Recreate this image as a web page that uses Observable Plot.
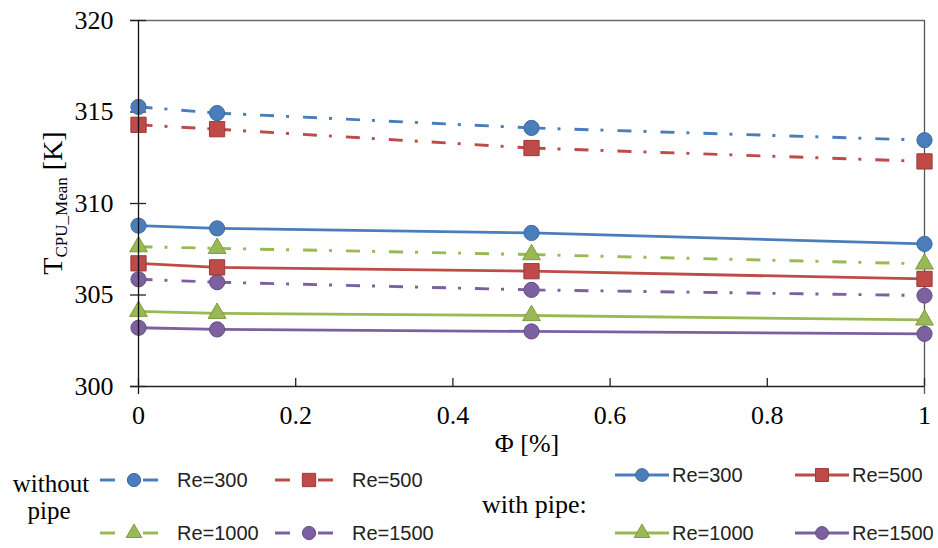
<!DOCTYPE html>
<html><head><meta charset="utf-8">
<script src="https://cdn.jsdelivr.net/npm/d3@7"></script>
<script src="https://cdn.jsdelivr.net/npm/@observablehq/plot@0.6"></script>
<style>body{margin:0;background:#fff}#chart svg{display:block}</style>
</head><body><div id="chart"></div>
<script>
// ---- data ----
const phi = [0, 0.1, 0.5, 1];
const reNames = ["Re=300", "Re=500", "Re=1000", "Re=1500"];
const seriesColors = ["#4A7EBB", "#BE4B48", "#98B954", "#7D60A0"];
const markerStrokes = ["#3C6AA2", "#9C3A37", "#7E9C42", "#634C85"];
const seriesSymbols = ["circle", "square", "triangle", "circle"];
const withoutPipe300 = [315.28, 314.94, 314.13, 313.46];
const withoutPipe500 = [314.30, 314.06, 313.03, 312.30];
const withoutPipe1000 = [307.64, 307.55, 307.21, 306.70];
const withoutPipe1500 = [305.86, 305.70, 305.28, 304.97];
const withPipe300 = [308.79, 308.64, 308.39, 307.79];
const withPipe500 = [306.73, 306.51, 306.30, 305.88];
const withPipe1000 = [304.11, 304.00, 303.88, 303.64];
const withPipe1500 = [303.21, 303.12, 303.01, 302.88];
const yTicks = [300, 305, 310, 315, 320];
const xTicks = [0, 0.2, 0.4, 0.6, 0.8, 1];

const withoutSeries = [withoutPipe300, withoutPipe500, withoutPipe1000, withoutPipe1500];
const withSeries = [withPipe300, withPipe500, withPipe1000, withPipe1500];

function toRows(list, group) {
  const rows = [];
  list.forEach((vals, s) => vals.forEach((v, i) => rows.push({
    phi: phi[i], T: v, re: reNames[s], group, color: seriesColors[s],
    mstroke: markerStrokes[s], sym: seriesSymbols[s]
  })));
  return rows;
}
const withoutRows = toRows(withoutSeries, "without");
const withRows = toRows(withSeries, "with");
const allRows = withoutRows.concat(withRows);
const segs = [];
withoutSeries.forEach((vals, s) => {
  for (let i = 0; i < vals.length - 1; i++)
    segs.push({x1: phi[i], y1: vals[i], x2: phi[i + 1], y2: vals[i + 1], color: seriesColors[s]});
});

const W = 938, H = 460;
const serif = "'Liberation Serif', 'Times New Roman', serif";
const sans = "'Liberation Sans', Arial, sans-serif";

const plot = Plot.plot({
  width: W, height: H,
  marginLeft: 138, marginRight: 14, marginTop: 20, marginBottom: 74,
  style: {fontFamily: serif, fontSize: "26px", color: "#000", background: "#fff"},
  x: {domain: [0, 1]},
  y: {domain: [300, 320]},
  color: {type: "identity"},
  marks: [
    Plot.ruleY([320], {stroke: "#6a6a6a", strokeWidth: 1.3, insetLeft: -8}),
    Plot.ruleX([1], {stroke: "#555", strokeWidth: 1.3, insetBottom: -8}),
    Plot.axisY({ticks: yTicks, tickSize: 16, dx: 8, tickFormat: () => "", stroke: "#222", strokeWidth: 1.3}),
    Plot.axisY({ticks: yTicks, tickSize: 0, tickPadding: 25, fontFamily: serif, fontSize: 26, fontVariant: "normal", fill: "#000"}),
    Plot.axisX({ticks: xTicks, tickSize: 8, dy: -8, tickFormat: () => "", stroke: "#222", strokeWidth: 1.3}),
    Plot.axisX({ticks: xTicks, tickSize: 0, tickPadding: 19, tickFormat: d => String(d), fontFamily: serif, fontSize: 26, fontVariant: "normal", fill: "#000"}),
    Plot.link(segs, {x1: "x1", y1: "y1", x2: "x2", y2: "y2", stroke: "color", strokeWidth: 2.9, strokeDasharray: "14,12,3,14"}),
    Plot.line(withRows, {x: "phi", y: "T", z: "re", stroke: "color", strokeWidth: 2.8}),
    Plot.dot(allRows.filter(d => d.sym === "circle"), {x: "phi", y: "T", symbol: "circle", r: 7.6, fill: "color", stroke: "mstroke", strokeWidth: 1}),
    Plot.dot(allRows.filter(d => d.sym === "square"), {x: "phi", y: "T", symbol: "square", r: 8.6, fill: "color", stroke: "mstroke", strokeWidth: 1}),
    Plot.dot(allRows.filter(d => d.sym === "triangle"), {x: "phi", y: "T", symbol: "triangle", r: 6.6, fill: "color", stroke: "mstroke", strokeWidth: 1}),
    Plot.ruleX([0], {stroke: "#111", strokeWidth: 1.3, insetBottom: -8}),
    Plot.ruleY([300], {stroke: "#222", strokeWidth: 1.3, insetLeft: -8})
  ]
});
document.getElementById("chart").appendChild(plot);

const svg = d3.select(plot);
svg.selectAll("text").style("font-family", serif).style("font-variant", "normal");

// axis titles
const yl = svg.append("text")
  .attr("transform", "translate(62,203) rotate(-90)")
  .attr("text-anchor", "middle")
  .attr("font-family", serif).attr("font-size", 28).attr("fill", "#000");
yl.append("tspan").text("T");
yl.append("tspan").attr("font-size", 17).attr("dy", 5).text("CPU_Mean");
yl.append("tspan").attr("dy", -5).text(" [K]");
svg.append("text").attr("x", 527).attr("y", 452).attr("text-anchor", "middle")
  .attr("font-family", serif).attr("font-size", 26).attr("fill", "#000").text("\u03A6 [%]");

// ---- legend ----
const leg = d3.select("#chart").append("svg").attr("width", W).attr("height", 88)
  .style("display", "block");
leg.append("text").attr("x", 51).attr("y", 32).attr("text-anchor", "middle")
  .attr("font-family", serif).attr("font-size", 25).text("without");
leg.append("text").attr("x", 49).attr("y", 59).attr("text-anchor", "middle")
  .attr("font-family", serif).attr("font-size", 25).text("pipe");
leg.append("text").attr("x", 482).attr("y", 53)
  .attr("font-family", serif).attr("font-size", 26).text("with pipe:");

function symPath(sym, r) {
  const t = sym === "square" ? d3.symbolSquare : sym === "triangle" ? d3.symbolTriangle : d3.symbolCircle;
  return d3.symbol(t, Math.PI * r * r)();
}
const withoutPos = [[100, 20], [275, 20], [100, 73], [275, 73]];
withoutPos.forEach(([x0, y], s) => {
  const g = leg.append("g");
  g.append("line").attr("x1", x0).attr("x2", x0 + 15).attr("y1", y).attr("y2", y)
    .attr("stroke", seriesColors[s]).attr("stroke-width", 3);
  g.append("line").attr("x1", x0 + 43).attr("x2", x0 + 58).attr("y1", y).attr("y2", y)
    .attr("stroke", seriesColors[s]).attr("stroke-width", 3);
  const r = seriesSymbols[s] === "square" ? 7.5 : seriesSymbols[s] === "triangle" ? 5.8 : 6.6;
  g.append("path").attr("d", symPath(seriesSymbols[s], r))
    .attr("transform", `translate(${x0 + 34},${y})`)
    .attr("fill", seriesColors[s]).attr("stroke", markerStrokes[s]).attr("stroke-width", 1);
  g.append("text").attr("x", x0 + 77).attr("y", y).attr("dy", "0.35em")
    .attr("font-family", sans).attr("font-size", 20).attr("fill", "#222").text(reNames[s]);
});
const withPos = [[615, 15], [795, 15], [615, 73], [795, 73]];
withPos.forEach(([x0, y], s) => {
  const g = leg.append("g");
  g.append("line").attr("x1", x0).attr("x2", x0 + 54).attr("y1", y).attr("y2", y)
    .attr("stroke", seriesColors[s]).attr("stroke-width", 3);
  const r = seriesSymbols[s] === "square" ? 7.3 : seriesSymbols[s] === "triangle" ? 5.8 : 6.4;
  g.append("path").attr("d", symPath(seriesSymbols[s], r))
    .attr("transform", `translate(${x0 + 27},${y})`)
    .attr("fill", seriesColors[s]).attr("stroke", markerStrokes[s]).attr("stroke-width", 1);
  g.append("text").attr("x", x0 + 57).attr("y", y).attr("dy", "0.35em")
    .attr("font-family", sans).attr("font-size", 20).attr("fill", "#222").text(reNames[s]);
});
</script>
</body></html>
